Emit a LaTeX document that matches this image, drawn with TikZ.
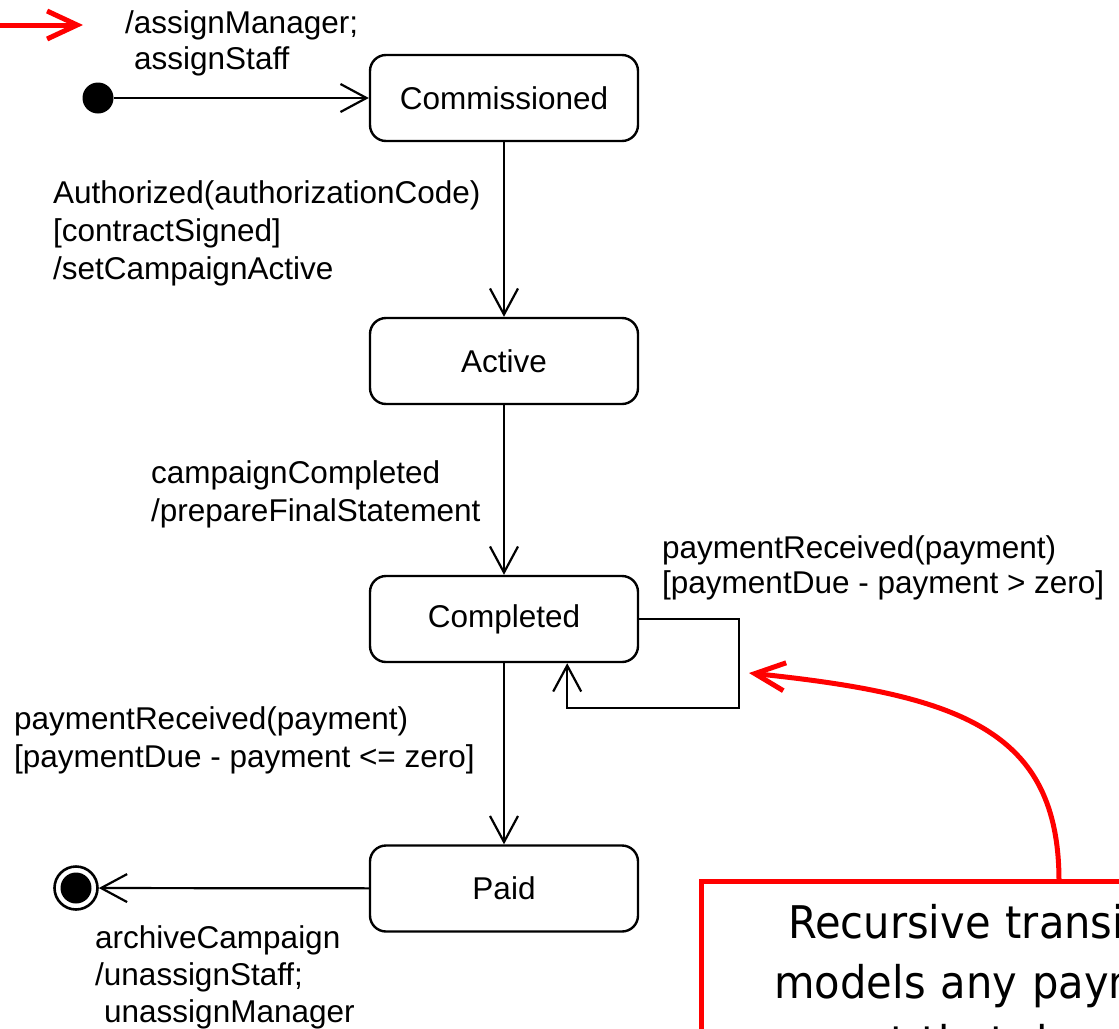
\documentclass[tikz,border=0pt]{standalone}
\usepackage{fontspec}
\setmainfont{Liberation Sans}
\newfontfamily\callfont[FakeStretch=0.925]{DejaVu Sans}
\usetikzlibrary{arrows.meta}
\begin{document}
\begin{tikzpicture}[x=1pt,y=-1pt,
  state/.style={draw, line width=2.4pt, rounded corners=16pt, minimum width=268pt, minimum height=86pt, inner sep=0pt, font=\fontsize{31.5}{38}\selectfont},
  trans/.style={line width=2.2pt, -{Straight Barb[length=26pt,width=28pt,line width=2.2pt]}},
  lbl/.style={anchor=west, align=left, inner sep=0pt, font=\fontsize{31.5}{38}\selectfont},
  lbls/.style={lbl, font=\fontsize{31.5}{36}\selectfont},
  redarrow/.style={red, line width=5pt, -{Straight Barb[length=30pt,width=28pt,line width=5pt]}},
]
\useasboundingbox (0,0) rectangle (1119,1028);
\clip (0,0) rectangle (1119,1028);

% states
\node[state] (comm) at (504,98) {Commissioned};
\node[state] (act) at (504,361) {Active};
\node[state] (compl) at (504,619) {Completed};
\node[state] (paid) at (504,888.5) {Paid};

% pseudo states
\node[circle, fill, inner sep=0pt, minimum size=31pt] (init) at (98,98) {};
\node[circle, draw, line width=2.6pt, inner sep=0pt, minimum size=43pt] (fin) at (76,888) {};
\node[circle, fill, inner sep=0pt, minimum size=31pt] (finin) at (76,888) {};

% transitions
\draw[trans] (init) -- (comm);
\draw[trans] (comm) -- (act);
\draw[trans] (act) -- (compl);
\draw[trans] (compl) -- (paid);
\draw[trans] (paid) -- (fin);
\draw[trans] (compl.east) -- ++(100,0) -- ++(0,89) -| ([xshift=-72pt]compl.south east);

% labels
\node[lbls] (l0) at (125,43) {/assignManager;\\\hspace*{9pt}assignStaff};
\node[lbl] (l1) at (53,233) {Authorized(authorizationCode)\\{}[contractSigned]\\/setCampaignActive};
\node[lbl] (l2) at (151,494) {campaignCompleted\\/prepareFinalStatement};
\node[lbl, font=\fontsize{31.5}{35}\selectfont] (l3) at (662,568) {paymentReceived(payment)\\{}[paymentDue - payment > zero]};
\node[lbl] (l4) at (14,740) {paymentReceived(payment)\\{}[paymentDue - payment <= zero]};
\node[lbl, font=\fontsize{31.5}{37}\selectfont] (l5) at (95,977) {archiveCampaign\\/unassignStaff;\\\hspace*{9pt}unassignManager};

% red legend arrow
\coordinate (rs) at (0,25);
\coordinate (re) at (83,25);
\draw[redarrow] (rs) -- (re);

% callout
\node[draw=red, line width=5pt, fill=white, anchor=north west, outer sep=0pt,
      inner xsep=0pt, inner ysep=23pt, text width=590pt, align=center,
      font=\callfont\fontsize{45}{60}\selectfont] (call) at (701,881)
  {Recursive transition\\models any payment\\event that does not};
\coordinate (calltip) at (749,673);
\draw[redarrow] ([xshift=358pt]call.north west) .. controls (1059,730) and (960,695) .. (calltip);
\end{tikzpicture}
\end{document}
